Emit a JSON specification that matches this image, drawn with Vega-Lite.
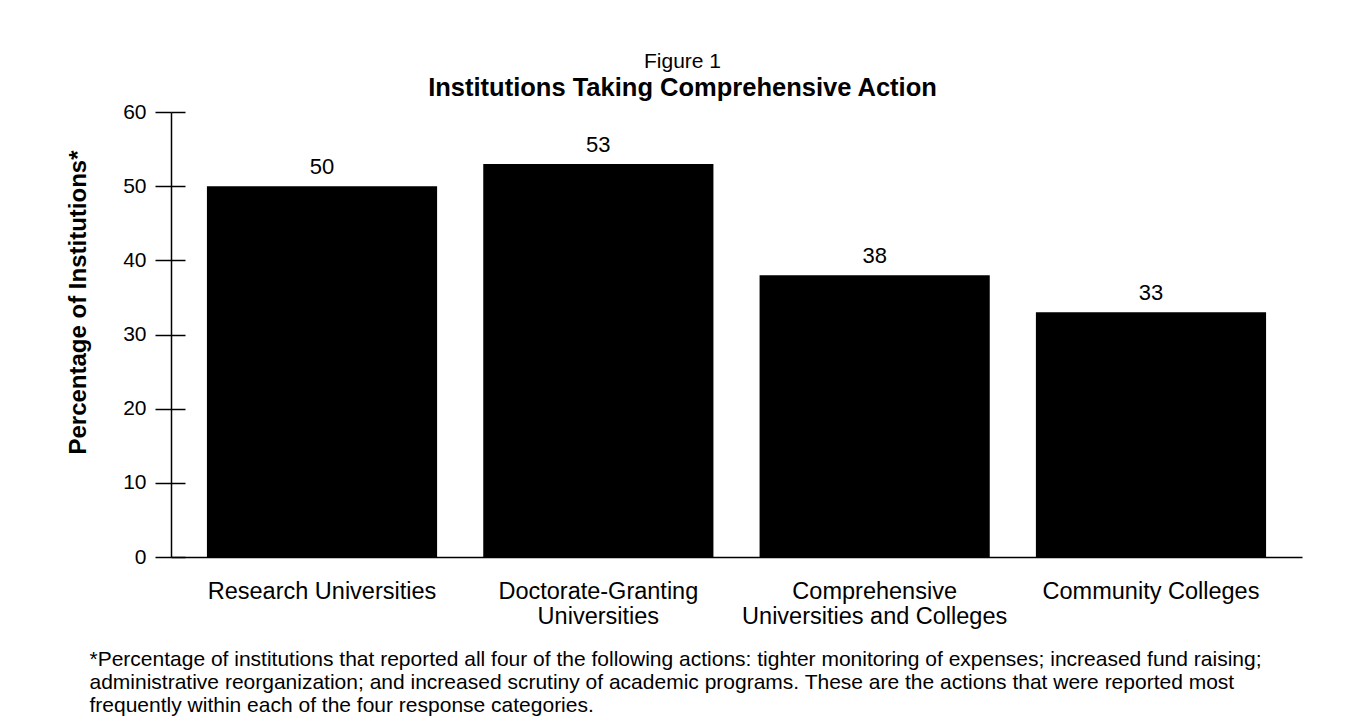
{
  "$schema": "https://vega.github.io/schema/vega-lite/v6.json",
  "autosize": "none",
  "width": 1131,
  "height": 445,
  "padding": {"left": 171, "top": 112, "right": 69, "bottom": 170},
  "background": "white",
  "config": {"font": "Liberation Sans", "view": {"stroke": null}},
  "title": {
    "text": "Figure 1",
    "subtitle": "Institutions Taking Comprehensive Action",
    "font": "Liberation Sans",
    "subtitleFont": "Liberation Sans",
    "fontSize": 21,
    "fontWeight": "normal",
    "color": "black",
    "subtitleFontSize": 25.5,
    "subtitleFontWeight": "bold",
    "subtitleColor": "black",
    "subtitlePadding": 4,
    "anchor": "middle",
    "dx": -54,
    "offset": 0
  },
  "data": {
    "values": [
      {"category": "Research Universities", "pct": 50},
      {"category": "Doctorate-Granting Universities", "pct": 53},
      {"category": "Comprehensive Universities and Colleges", "pct": 38},
      {"category": "Community Colleges", "pct": 33}
    ]
  },
  "encoding": {
    "x": {
      "field": "category",
      "type": "nominal",
      "sort": null,
      "scale": {"paddingInner": 0.167, "paddingOuter": 0.13},
      "axis": {
        "orient": "bottom",
        "domain": true,
        "domainColor": "black",
        "domainWidth": 1.5,
        "ticks": false,
        "labelAngle": 0,
        "labelFontSize": 23.5,
        "labelColor": "black",
        "labelPadding": 22,
        "labelLineHeight": 25,
        "labelLimit": 0,
        "labelExpr": "datum.value == 'Doctorate-Granting Universities' ? ['Doctorate-Granting', 'Universities'] : datum.value == 'Comprehensive Universities and Colleges' ? ['Comprehensive', 'Universities and Colleges'] : datum.value",
        "title": [
          "*Percentage of institutions that reported all four of the following actions: tighter monitoring of expenses; increased fund raising;",
          "administrative reorganization; and increased scrutiny of academic programs. These are the actions that were reported most",
          "frequently within each of the four response categories."
        ],
        "titleFontSize": 21,
        "titleFontWeight": "normal",
        "titleColor": "black",
        "titleAnchor": "start",
        "titleAlign": "left",
        "titleBaseline": "alphabetic",
        "titleLineHeight": 23,
        "titleX": -82,
        "titleY": 108
      }
    }
  },
  "layer": [
    {
      "mark": {"type": "bar", "color": "black"},
      "encoding": {
        "y": {
          "field": "pct",
          "type": "quantitative",
          "scale": {"domain": [0, 60], "nice": false},
          "axis": {
            "orient": "left",
            "values": [0, 10, 20, 30, 40, 50, 60],
            "grid": false,
            "domain": true,
            "domainColor": "black",
            "domainWidth": 1.5,
            "ticks": true,
            "tickSize": 16,
            "tickColor": "black",
            "tickWidth": 1.5,
            "labelFontSize": 21,
            "labelColor": "black",
            "labelPadding": 9,
            "title": "Percentage of Institutions*",
            "titleFontSize": 24,
            "titleFontWeight": "bold",
            "titleColor": "black",
            "titlePadding": 32,
            "titleY": 190
          }
        }
      }
    },
    {
      "mark": {"type": "text", "baseline": "alphabetic", "dy": -12, "fontSize": 22, "color": "black"},
      "encoding": {
        "text": {"field": "pct", "type": "quantitative"},
        "y": {
          "field": "pct",
          "type": "quantitative",
          "axis": {
            "orient": "left",
            "values": [0, 10, 20, 30, 40, 50, 60],
            "grid": false,
            "domain": false,
            "labels": false,
            "ticks": true,
            "tickSize": -14,
            "tickColor": "black",
            "tickWidth": 1.5,
            "title": null
          }
        }
      }
    }
  ],
  "resolve": {"axis": {"y": "independent"}}
}
